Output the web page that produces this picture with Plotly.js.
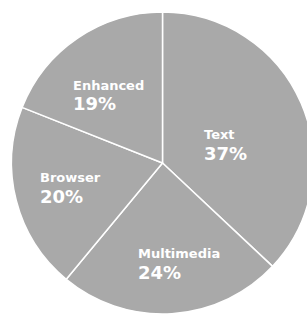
<!DOCTYPE html>
<html><head><meta charset="utf-8">
<script src="https://cdn.plot.ly/plotly-3.0.1.min.js"></script>
<style>html,body{margin:0;padding:0;overflow:hidden;background:#fff;width:307px;height:314px}</style>
</head><body><div id="chart"></div>
<script>
const categories = ["Text", "Multimedia", "Browser", "Enhanced"];
const shares = [37, 24, 20, 19];
const percentLabels = ["37%", "24%", "20%", "19%"];

// label anchor points (pixels in the 320x320 layout): left x, name-line centre y, percent-line centre y
const labelPos = [[203,134,153],[137,253,272],[39,177,196],[72,85,104]];
const W = 320, H = 320;
const annotations = [];
categories.forEach((c,i)=>{
  const p = labelPos[i];
  annotations.push({text:'<b>'+c+'</b>', x:p[0]/W, y:(H-p[1])/H, xref:'paper', yref:'paper',
    xanchor:'left', yanchor:'middle', showarrow:false, borderpad:0,
    font:{family:'DejaVu Sans', size:13, color:'#ffffff'}});
  annotations.push({text:'<b>'+percentLabels[i]+'</b>', x:p[0]/W, y:(H-p[2])/H, xref:'paper', yref:'paper',
    xanchor:'left', yanchor:'middle', showarrow:false, borderpad:0,
    font:{family:'DejaVu Sans', size:18, color:'#ffffff'}});
});

Plotly.newPlot('chart', [{
  type:'pie', labels:categories, values:shares, sort:false, direction:'clockwise', rotation:0,
  marker:{colors:categories.map(()=>'#a9a9a9'), line:{color:'#ffffff', width:1.5}},
  textinfo:'none', hoverinfo:'skip',
  domain:{x:[11.5/W, 313.5/W], y:[6/H, 308/H]}
}], {
  width:W, height:H, margin:{l:0,r:0,t:0,b:0}, showlegend:false,
  paper_bgcolor:'#ffffff', annotations:annotations
}, {staticPlot:true, displayModeBar:false});
</script></body></html>
